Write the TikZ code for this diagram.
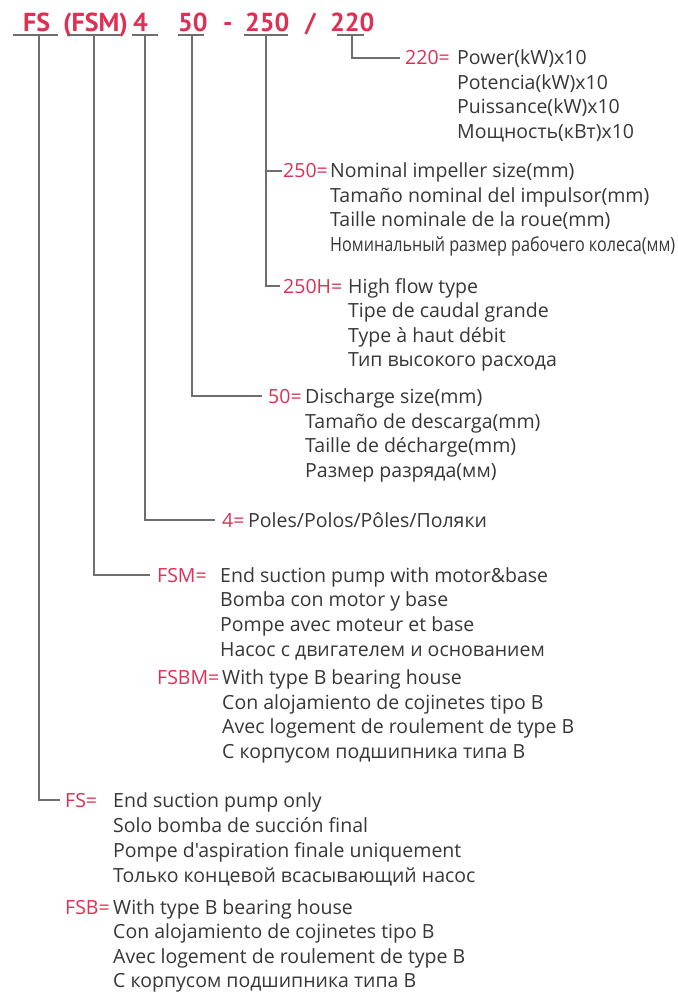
\documentclass[tikz,border=0pt]{standalone}
\usepackage{fontspec}
\setmainfont{PT Sans}
\newfontfamily\bodyfont{Open Sans}
\definecolor{codered}{RGB}{222,48,84}
\definecolor{txtgrey}{RGB}{55,55,55}
\definecolor{linegrey}{RGB}{110,110,110}
\tikzset{
  hdr/.style={anchor=base west,inner sep=0pt,text=codered,font=\fontsize{26}{26}\selectfont\bfseries},
  code/.style={anchor=base west,inner sep=0pt,text=codered,font=\bodyfont\fontsize{19.5}{20}\selectfont},
  txt/.style={anchor=base west,inner sep=0pt,text=txtgrey,font=\bodyfont\fontsize{19.5}{20}\selectfont},
  conn/.style={draw=linegrey,line width=1.1pt},
  uline/.style={draw=linegrey,line width=1.2pt}
}
\begin{document}
\begin{tikzpicture}[x=1pt,y=-1pt]
\useasboundingbox[fill=white] (0,0) rectangle (677,992);
% header
\node[hdr] (hFS) at (23,32) {FS};
\node[hdr] (hFSM) at (63,32) {(FSM)};
\node[hdr] (hP) at (133,32) {4};
\node[hdr] (hD) at (178,32) {50};
\node[hdr] (hdash) at (223,32) {-};
\node[hdr] (hI) at (245,32) {250};
\node[hdr] (hsl) at (305,32) {/};
\node[hdr] (hW) at (330,32) {220};
% underlines
\coordinate (uFSa) at (13,35); \coordinate (uFSb) at (58,35);
\coordinate (uFSMa) at (67,35); \coordinate (uFSMb) at (120,35);
\coordinate (uPa) at (132,35); \coordinate (uPb) at (158,35);
\coordinate (uDa) at (178,35); \coordinate (uDb) at (204,35);
\coordinate (uIa) at (244,35); \coordinate (uIb) at (288,35);
\coordinate (uWa) at (337,35); \coordinate (uWb) at (364,35);
\draw[uline] (uFSa) -- (uFSb);
\draw[uline] (uFSMa) -- (uFSMb);
\draw[uline] (uPa) -- (uPb);
\draw[uline] (uDa) -- (uDb);
\draw[uline] (uIa) -- (uIb);
\draw[uline] (uWa) -- (uWb);
% drop points
\coordinate (dFS) at (39,35);
\coordinate (dFSM) at (94,35);
\coordinate (dP) at (145,35);
\coordinate (dD) at (192,35);
\coordinate (dI) at (266,35);
\coordinate (dW) at (352,35);
% 220
\node[code] (kW) at (405,65) {220=};
\node[txt] (w1) at (457,65) {Power(kW)x10};
\node[txt] (w2) at (457,90) {Potencia(kW)x10};
\node[txt] (w3) at (457,114) {Puissance(kW)x10};
\node[txt] (w4) at (457,139) {Мощность(кВт)x10};
% 250
\node[code] (kI) at (283,178) {250=};
\node[txt] (i1) at (330,178) {Nominal impeller size(mm)};
\node[txt] (i2) at (330,203) {Tamaño nominal del impulsor(mm)};
\node[txt] (i3) at (330,227) {Taille nominale de la roue(mm)};
\node[txt] (i4) at (330,251) {\resizebox{345pt}{\height}{Номинальный размер рабочего колеса(мм)}};
% 250H
\node[code] (kH) at (283,293) {250H=};
\node[txt] (h1) at (348,293) {High flow type};
\node[txt] (h2) at (348,317) {Tipe de caudal grande};
\node[txt] (h3) at (348,342) {Type à haut débit};
\node[txt] (h4) at (348,366) {Тип высокого расхода};
% 50
\node[code] (kD) at (268,403) {50=};
\node[txt] (d1) at (305,403) {Discharge size(mm)};
\node[txt] (d2) at (305,428) {Tamaño de descarga(mm)};
\node[txt] (d3) at (305,452) {Taille de décharge(mm)};
\node[txt] (d4) at (305,477) {Размер разряда(мм)};
% 4
\node[code] (kP) at (222,527) {4=};
\node[txt] (p1) at (248,527) {Poles/Polos/Pôles/Поляки};
% FSM
\node[code] (kFSM) at (157,582) {FSM=};
\node[txt] (m1) at (220,582) {End suction pump with motor\&base};
\node[txt] (m2) at (220,606) {Bomba con motor y base};
\node[txt] (m3) at (220,631) {Pompe avec moteur et base};
\node[txt] (m4) at (220,656) {Насос с двигателем и основанием};
\node[code] (kFSBM) at (157,684) {FSBM=};
\node[txt] (b1) at (222,684) {With type B bearing house};
\node[txt] (b2) at (222,709) {Con alojamiento de cojinetes tipo B};
\node[txt] (b3) at (222,733) {Avec logement de roulement de type B};
\node[txt] (b4) at (222,758) {С корпусом подшипника типа B};
% FS
\node[code] (kFS) at (65,807) {FS=};
\node[txt] (s1) at (113,807) {End suction pump only};
\node[txt] (s2) at (113,832) {Solo bomba de succión final};
\node[txt] (s3) at (113,857) {Pompe d'aspiration finale uniquement};
\node[txt] (s4) at (113,882) {Только концевой всасывающий насос};
\node[code] (kFSB) at (65,914) {FSB=};
\node[txt] (t1) at (113,914) {With type B bearing house};
\node[txt] (t2) at (113,938) {Con alojamiento de cojinetes tipo B};
\node[txt] (t3) at (113,963) {Avec logement de roulement de type B};
\node[txt] (t4) at (113,987) {С корпусом подшипника типа B};
% connectors
\draw[conn] (dW) |- ([xshift=-5pt]kW.west);
\draw[conn] (dI) |- ([xshift=-1pt]kI.west);
\draw[conn] (dI) |- ([xshift=-3pt]kH.west);
\draw[conn] (dD) |- ([xshift=-6pt]kD.west);
\draw[conn] (dP) |- ([xshift=-7pt]kP.west);
\draw[conn] (dFSM) |- ([xshift=-7pt]kFSM.west);
\draw[conn] (dFS) |- ([xshift=-5pt]kFS.west);
\end{tikzpicture}
\end{document}
